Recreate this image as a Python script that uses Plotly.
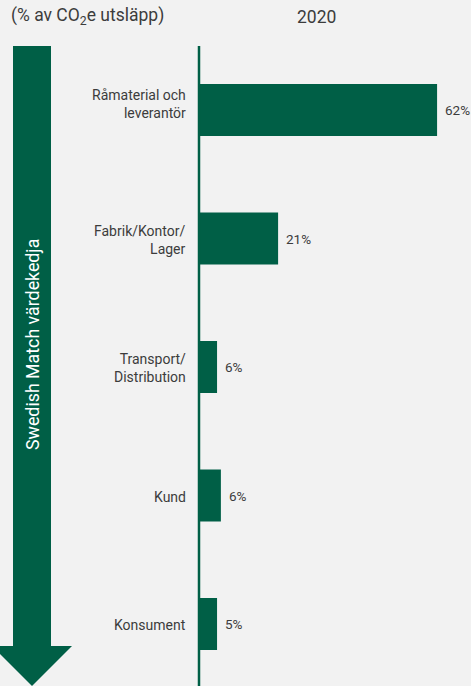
import plotly.graph_objects as go

categories = ["Råmaterial och<br>leverantör", "Fabrik/Kontor/<br>Lager", "Transport/<br>Distribution", "Kund", "Konsument"]
values = [62.0, 20.6, 4.7, 5.7, 4.7]
value_labels = ["62%", "21%", "6%", "6%", "5%"]
header_left = "(% av CO<sub>2</sub>e utsläpp)"
header_year = "2020"
arrow_label = "Swedish Match värdekedja"

W, H = 471, 686
GREEN = "#005f46"
BG = "#f2f2f2"
TXT = "#3c3c3c"
FONT = "Roboto, DejaVu Sans, sans-serif"

# pixel mapping helpers (layout only)
px_per_unit = 3.84
x0_px = 199
x_range = [(0 - x0_px) / px_per_unit, (W - x0_px) / px_per_unit]
spacing = 128.5
top_val = -110 / spacing
y_range = [top_val + H / spacing, top_val]

def px(xp):
    return xp / W

def py(yp):
    return 1 - yp / H

fig = go.Figure()
fig.add_trace(go.Bar(
    y=categories, x=values, orientation="h",
    marker=dict(color=GREEN, line=dict(width=0)),
    width=0.405, hoverinfo="skip",
))

annotations = []
for c, v, lab in zip(categories, values, value_labels):
    annotations.append(dict(x=v, y=c, xref="x", yref="y", text=lab, showarrow=False,
                            xanchor="left", xshift=6, font=dict(family=FONT, size=13.5, color=TXT)))
    annotations.append(dict(x=px(188), y=c, xref="paper", yref="y", text=c, showarrow=False,
                            xanchor="right", align="right",
                            yshift=(6 if c.startswith("Råmaterial") else -1),
                            font=dict(family=FONT, size=14, color=TXT)))

annotations.append(dict(x=px(9), y=py(17), xref="paper", yref="paper", text=header_left,
                        showarrow=False, xanchor="left", yanchor="middle",
                        font=dict(family=FONT, size=17.5, color=TXT)))
annotations.append(dict(x=px(316), y=py(17), xref="paper", yref="paper", text=header_year,
                        showarrow=False, xanchor="center", yanchor="middle",
                        font=dict(family=FONT, size=17.5, color=TXT)))
annotations.append(dict(x=px(32), y=py(345), xref="paper", yref="paper", text=arrow_label,
                        showarrow=False, textangle=-90, xanchor="center", yanchor="middle",
                        font=dict(family=FONT, size=17.8, color="white")))

arrow_path = "M {a},{b} L {c},{b} L {c},{d} L {e},{d} L {f},{g} L {h},{d} L {a},{d} Z".format(
    a=px(13), b=py(46), c=px(51), d=py(646), e=px(72), f=px(32), g=py(686), h=px(-8))

shapes = [
    dict(type="path", path=arrow_path, xref="paper", yref="paper",
         fillcolor=GREEN, line=dict(width=0), layer="above"),
    dict(type="line", xref="x", yref="paper", x0=0, x1=0, y0=py(46), y1=py(686),
         line=dict(color=GREEN, width=2.5), layer="above"),
]

fig.update_layout(
    width=W, height=H, margin=dict(l=0, r=0, t=0, b=0),
    paper_bgcolor=BG, plot_bgcolor=BG, showlegend=False,
    xaxis=dict(range=x_range, visible=False, fixedrange=True),
    yaxis=dict(range=y_range, type="category", visible=False, fixedrange=True,
               categoryorder="array", categoryarray=categories),
    annotations=annotations, shapes=shapes,
)

fig.write_html("out.html")
